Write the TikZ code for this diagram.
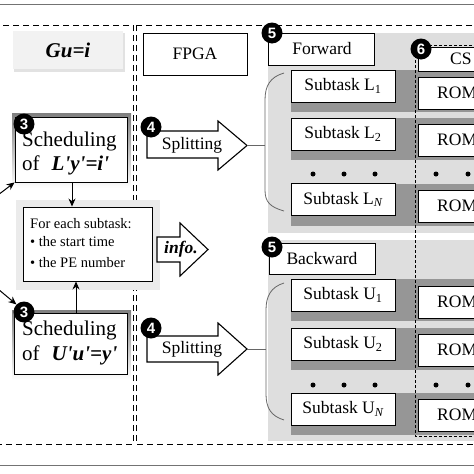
\documentclass[tikz,border=0pt]{standalone}
\usepackage{fontspec}
\setmainfont{Liberation Serif}
\newfontfamily\badgefont{Liberation Sans}
\usetikzlibrary{arrows.meta}
\definecolor{lightband}{RGB}{222,222,222}
\definecolor{darkband}{RGB}{150,150,150}
\definecolor{shade}{RGB}{212,212,212}
\definecolor{softshade}{RGB}{226,226,226}
\begin{document}
\begin{tikzpicture}[x=1pt,y=-1pt,
  box/.style={draw=black, fill=white, line width=0.9pt, inner sep=0pt},
  badge/.style={circle, fill=black, text=white, minimum size=21pt, inner sep=0pt, font=\badgefont\bfseries\fontsize{15}{15}\selectfont},
  txt/.style={inner sep=0pt, font=\fontsize{17.5}{20}\selectfont},
  schedtxt/.style={inner sep=0pt, anchor=base west, font=\fontsize{21}{24}\selectfont},
  infotxt/.style={inner sep=0pt, anchor=base west, font=\fontsize{14.5}{17}\selectfont},
  outerdash/.style={line width=0.9pt, dash pattern=on 6pt off 4pt},
  finedash/.style={line width=0.8pt, dash pattern=on 3pt off 2pt},
  fatarrow/.style={draw=black, fill=white, line width=1.1pt, line join=miter},
  arr/.style={line width=1pt, -{Stealth[length=8pt,width=7pt]}},
  bracestyle/.style={draw=black!60, line width=0.8pt},
  dot/.style={circle, fill=black, inner sep=0pt, minimum size=5pt},
]
\useasboundingbox (0,0) rectangle (474,474);
\clip (0,0) rectangle (474,474);

% frame lines
\draw[black!55, line width=1pt] (0,4) -- (474,4);
\draw[black!55, line width=1pt] (0,465) -- (474,465);

% ================= right side backgrounds =================
\fill[lightband] (268,33) rectangle (480,233);
\fill[lightband] (268,240) rectangle (480,441);
\foreach \t in {70,118,184,279,328,393} {
  \fill[darkband] (291,\t) rectangle (480,\t+42);
}

% dashed containers
\draw[outerdash] (-5,25) rectangle (133,444);
\draw[outerdash] (136,25) rectangle (490,444);
\draw[finedash] (415,45) rectangle (490,436);

% ================= left side =================
\fill[softshade] (14,33) rectangle (125,72);
\node[fill=black!5, inner sep=0pt, minimum width=110pt, minimum height=38pt] (gu) at (68,50)
  {\fontsize{21}{24}\selectfont\bfseries\itshape Gu=i};

% scheduling 1
\fill[shade] (12,113) rectangle (131,188);
\node[box, minimum width=112pt, minimum height=65pt] (s1) at (71,149.5) {};
\node[schedtxt] (s1a) at (22,146) {Scheduling};
\node[schedtxt] (s1b) at (22,170) {of\hspace{12pt}\textbf{\textit{L\textquotesingle y\textquotesingle=i\textquotesingle}}};
\node[badge] (b3a) at (24,124) {3};

% info box
\fill[black!8] (16,200) rectangle (160,290);
\node[box, minimum width=129pt, minimum height=74pt] (info) at (87.5,244) {};
\node[infotxt] (i1) at (30,228) {For each subtask:};
\node[infotxt] (i2) at (30,246) {\textbullet\ the start time};
\node[infotxt] (i3) at (30,267) {\textbullet\ the PE number};

% scheduling 2
\fill[shade] (12,310) rectangle (131,380);
\node[box, minimum width=113pt, minimum height=61pt] (s2) at (70.5,343.5) {};
\node[schedtxt] (s2a) at (22,335) {Scheduling};
\node[schedtxt] (s2b) at (22,360) {of\hspace{12pt}\textbf{\textit{U\textquotesingle u\textquotesingle=y\textquotesingle}}};
\node[badge] (b3b) at (24,312) {3};

% arrows on left
\draw[arr] (s1.south -| 72,0) -- (info.north -| 72,0);
\draw[arr] (s2.north -| 76,0) -- (info.south -| 76,0);
\coordinate (in1) at (-2,195);
\coordinate (in2) at (-2,289);
\draw[arr] (in1) -- (s1.south west);
\draw[arr] (in2) -- (b3b.north west);

% ================= right side =================
\node[box, minimum width=104pt, minimum height=42pt] (fpga) at (195,54) {};
\node[txt] (fpgat) at (195,54) {FPGA};

% info arrow
\draw[fatarrow] (157,237) -- (180,237) -- (180,223) -- (208,249.5) -- (180,276) -- (180,262) -- (157,262) -- cycle;
\node[txt] (infoa) at (181,249.5) {\bfseries\itshape info.};

% splitting arrows
\draw[fatarrow] (147,131) -- (218,131) -- (218,121) -- (247,145.5) -- (218,170) -- (218,158) -- (147,158) -- cycle;
\node[txt] (sp1) at (192,145) {Splitting};
\coordinate (sp1tip) at (247,145.5);
\node[badge] (b4a) at (151,127) {4};

\draw[fatarrow] (147,336) -- (218,336) -- (218,323) -- (247,349) -- (218,375) -- (218,362) -- (147,362) -- cycle;
\node[txt] (sp2) at (192,349) {Splitting};
\coordinate (sp2tip) at (247,349);
\node[badge] (b4b) at (151,328) {4};

% braces
\coordinate (br1) at (265,145.5);
\coordinate (br2) at (266,349);
\draw[bracestyle] (sp1tip) -- (br1);
\draw[bracestyle] (sp2tip) -- (br2);
\draw[bracestyle] (284,73) .. controls (270,77) and (265,86) .. (265,100) -- (265,190) .. controls (265,202) and (270,207) .. (284,211);
\draw[bracestyle] (284,283) .. controls (271,287) and (266,296) .. (266,310) -- (266,394) .. controls (266,408) and (271,416) .. (284,420);

% forward / backward labels
\node[box, minimum width=106pt, minimum height=32pt] (fw) at (321,49) {};
\node[txt] (fwt) at (322,49) {Forward};
\node[badge] (b5a) at (272,33) {5};
\node[box, minimum width=106pt, minimum height=31pt] (bw) at (322,258.5) {};
\node[txt] (bwt) at (322,258.5) {Backward};
\node[badge] (b5b) at (272,247) {5};

% subtask boxes
\node[box, minimum width=104pt, minimum height=32pt] (l1) at (343,86) {};
\node[txt] at (l1) {Subtask L\textsubscript{1}};
\node[box, minimum width=104pt, minimum height=32pt] (l2) at (343,134) {};
\node[txt] at (l2) {Subtask L\textsubscript{2}};
\node[box, minimum width=104pt, minimum height=32pt] (ln) at (343,199.5) {};
\node[txt] at (ln) {Subtask L\textsubscript{\itshape N}};
\node[box, minimum width=104pt, minimum height=32pt] (u1) at (343,295) {};
\node[txt] at (u1) {Subtask U\textsubscript{1}};
\node[box, minimum width=104pt, minimum height=32pt] (u2) at (343,344) {};
\node[txt] at (u2) {Subtask U\textsubscript{2}};
\node[box, minimum width=104pt, minimum height=32pt] (un) at (343,409) {};
\node[txt] at (un) {Subtask U\textsubscript{\itshape N}};

% CS and ROM boxes
\node[box, minimum width=62pt, minimum height=24pt] (cs) at (449,59) {};
\node[txt, anchor=west] (cst) at (450,59) {CS};
\node[badge] (b6) at (421,49) {6};
\foreach \n/\c in {r1/93,r2/140,rn/206,ru1/302,ru2/350,run/415} {
  \node[box, minimum width=62pt, minimum height=32pt] (\n) at (449,\c) {};
  \node[txt, anchor=west] at (437,\c) {ROM};
}

% dots
\foreach \y in {174,385} {
  \foreach \x in {313,344,375,436,468} {
    \node[dot] at (\x,\y) {};
  }
}
\end{tikzpicture}
\end{document}
